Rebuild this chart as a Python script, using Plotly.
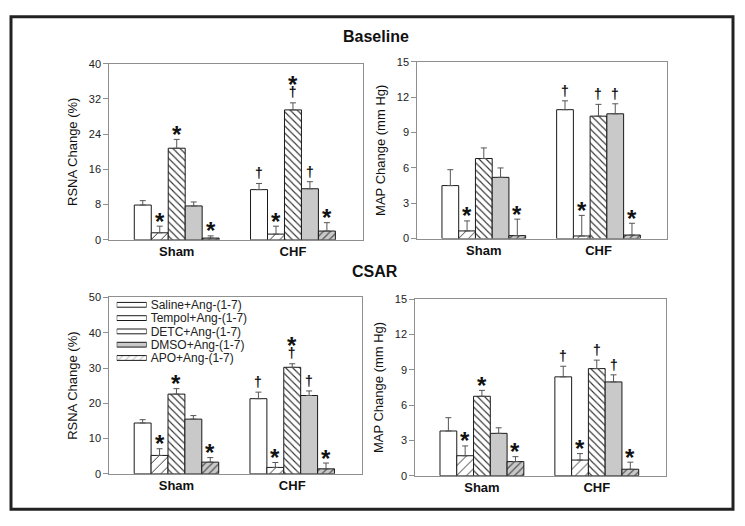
import plotly.graph_objects as go

W, H = 745, 526

groups = ["Sham", "CHF"]
treatments = ["Saline+Ang-(1-7)", "Tempol+Ang-(1-7)", "DETC+Ang-(1-7)",
              "DMSO+Ang-(1-7)", "APO+Ang-(1-7)"]

# Baseline RSNA (%)
base_rsna_sham = [7.9, 1.6, 20.8, 7.7, 0.4]
base_rsna_sham_err = [1.0, 1.5, 2.0, 0.9, 0.5]
base_rsna_chf = [11.4, 1.3, 29.5, 11.6, 2.0]
base_rsna_chf_err = [1.4, 1.8, 1.6, 1.6, 1.9]
base_rsna_sham_marks = ["", "*", "*", "", "*"]
base_rsna_chf_marks = ["†", "*", "*†", "†", "*"]

# Baseline MAP (mm Hg)
base_map_sham = [4.5, 0.65, 6.8, 5.2, 0.25]
base_map_sham_err = [1.35, 0.85, 0.9, 0.8, 1.4]
base_map_chf = [10.95, 0.22, 10.4, 10.6, 0.3]
base_map_chf_err = [0.75, 1.75, 1.0, 0.85, 1.0]
base_map_sham_marks = ["", "*", "", "", "*"]
base_map_chf_marks = ["†", "*", "†", "†", "*"]

# CSAR RSNA (%)
csar_rsna_sham = [14.4, 5.2, 22.6, 15.5, 3.3]
csar_rsna_sham_err = [0.95, 1.9, 1.55, 1.0, 1.3]
csar_rsna_chf = [21.3, 1.8, 30.2, 22.2, 1.4]
csar_rsna_chf_err = [1.85, 1.4, 1.0, 1.3, 1.65]
csar_rsna_sham_marks = ["", "*", "*", "", "*"]
csar_rsna_chf_marks = ["†", "*", "*†", "†", "*"]

# CSAR MAP (mm Hg)
csar_map_sham = [3.8, 1.7, 6.75, 3.6, 1.2]
csar_map_sham_err = [1.13, 0.83, 0.5, 0.47, 0.42]
csar_map_chf = [8.4, 1.33, 9.1, 7.97, 0.55]
csar_map_chf_err = [0.9, 0.55, 0.72, 0.6, 0.6]
csar_map_sham_marks = ["", "*", "*", "", "*"]
csar_map_chf_marks = ["†", "*", "†", "†", "*"]

styles = [
    dict(color="white", pattern=dict(shape="")),
    dict(color="white", pattern=dict(shape="/", size=7, solidity=0.14,
                                     fgcolor="#333333", bgcolor="white", fillmode="replace")),
    dict(color="white", pattern=dict(shape="\\", size=5, solidity=0.22,
                                     fgcolor="#333333", bgcolor="white", fillmode="replace")),
    dict(color="#c9c9c9", pattern=dict(shape="")),
    dict(color="#c9c9c9", pattern=dict(shape="/", size=5, solidity=0.25,
                                       fgcolor="#555555", bgcolor="#c9c9c9", fillmode="replace")),
]

FONT = "Liberation Sans, Arial, sans-serif"
AXC = "#8f8f8f"
BARGAP = 0.27

panels = [
    dict(sham=base_rsna_sham, sham_err=base_rsna_sham_err, chf=base_rsna_chf, chf_err=base_rsna_chf_err,
         sm=base_rsna_sham_marks, cm=base_rsna_chf_marks, ymax=40, dtick=8, title="RSNA Change (%)",
         xd=[109.3, 362.7], yd=[59.0, 239.3]),
    dict(sham=base_map_sham, sham_err=base_map_sham_err, chf=base_map_chf, chf_err=base_map_chf_err,
         sm=base_map_sham_marks, cm=base_map_chf_marks, ymax=15, dtick=3, title="MAP Change (mm Hg)",
         xd=[417.3, 667.3], yd=[57.3, 238.0]),
    dict(sham=csar_rsna_sham, sham_err=csar_rsna_sham_err, chf=csar_rsna_chf, chf_err=csar_rsna_chf_err,
         sm=csar_rsna_sham_marks, cm=csar_rsna_chf_marks, ymax=50, dtick=10, title="RSNA Change (%)",
         xd=[109.3, 361.7], yd=[298.3, 478.7]),
    dict(sham=csar_map_sham, sham_err=csar_map_sham_err, chf=csar_map_chf, chf_err=csar_map_chf_err,
         sm=csar_map_sham_marks, cm=csar_map_chf_marks, ymax=15, dtick=3, title="MAP Change (mm Hg)",
         xd=[415.3, 665.7], yd=[300.0, 480.7]),
]

fig = go.Figure()
annotations = []
layout = {}
bw = (1 - BARGAP) / len(treatments)

for p_i, p in enumerate(panels):
    n = p_i + 1
    xa = "x" if n == 1 else f"x{n}"
    ya = "y" if n == 1 else f"y{n}"
    for t_i, t in enumerate(treatments):
        st = styles[t_i]
        fig.add_trace(go.Bar(
            x=groups, y=[p["sham"][t_i], p["chf"][t_i]], name=t, showlegend=False,
            xaxis=xa, yaxis=ya,
            marker=dict(color=st["color"], pattern=st["pattern"], line=dict(color="#1a1a1a", width=1)),
            error_y=dict(type="data", symmetric=False,
                         array=[p["sham_err"][t_i], p["chf_err"][t_i]], arrayminus=[0, 0],
                         color="#555555", thickness=1, width=3),
        ))
        for g_i, (vals, errs, marks) in enumerate([(p["sham"], p["sham_err"], p["sm"]),
                                                   (p["chf"], p["chf_err"], p["cm"])]):
            m = marks[t_i]
            if not m:
                continue
            xpos = g_i + (t_i - 2) * bw
            ytop = vals[t_i] + errs[t_i]
            if m == "*":
                annotations.append(dict(x=xpos, y=ytop, xref=xa, yref=ya, text="<b>*</b>", showarrow=False,
                                        font=dict(family=FONT, size=24, color="#111"),
                                        yanchor="middle", yshift=5))
            elif m == "†":
                annotations.append(dict(x=xpos, y=ytop, xref=xa, yref=ya, text="<b>†</b>", showarrow=False,
                                        font=dict(family=FONT, size=14, color="#111"),
                                        yanchor="middle", yshift=10))
            else:
                annotations.append(dict(x=xpos, y=ytop, xref=xa, yref=ya,
                                        text="<span style='font-size:24px'><b>*</b></span><br>"
                                             "<span style='font-size:14px'><b>†</b></span>",
                                        showarrow=False,
                                        font=dict(family=FONT, size=3, color="#111"),
                                        yanchor="bottom", yshift=1))
    xkey = "xaxis" if n == 1 else f"xaxis{n}"
    ykey = "yaxis" if n == 1 else f"yaxis{n}"
    layout[xkey] = dict(domain=[p["xd"][0] / W, p["xd"][1] / W], anchor=ya, type="category",
                        range=[-0.58, 1.6], tickvals=groups, ticktext=[f"<b>{g}</b>" for g in groups],
                        tickfont=dict(family=FONT, size=13, color="#111"), ticks="",
                        showline=True, mirror=True, linecolor=AXC, linewidth=1, showgrid=False)
    layout[ykey] = dict(domain=[1 - p["yd"][1] / H, 1 - p["yd"][0] / H], anchor=xa,
                        range=[0, p["ymax"]], dtick=p["dtick"], tick0=0,
                        ticks="outside", ticklen=5, tickcolor=AXC,
                        tickfont=dict(family=FONT, size=11, color="#222"),
                        showline=True, mirror=True, linecolor=AXC, linewidth=1,
                        showgrid=False, zeroline=False,
                        title=dict(text=p["title"], font=dict(family=FONT, size=13, color="#111"), standoff=8))

# custom legend swatches (inside CSAR RSNA panel)
fig.add_trace(go.Bar(
    y=treatments, x=[1] * len(treatments), orientation="h", showlegend=False,
    xaxis="x5", yaxis="y5", hoverinfo="skip", width=0.36,
    marker=dict(color=[s["color"] for s in styles],
                pattern=dict(shape=[s["pattern"]["shape"] for s in styles],
                             size=[s["pattern"].get("size", 6) for s in styles],
                             solidity=[s["pattern"].get("solidity", 0.2) for s in styles],
                             fgcolor=[s["pattern"].get("fgcolor", "#333") for s in styles],
                             bgcolor=[s["pattern"].get("bgcolor", s["color"]) for s in styles],
                             fillmode="replace"),
                line=dict(color="#1a1a1a", width=1)),
))
layout["xaxis5"] = dict(domain=[116.7 / W, 146.7 / W], anchor="y5", range=[0, 1], visible=False)
layout["yaxis5"] = dict(domain=[1 - 367 / H, 1 - 299 / H], anchor="x5", type="category",
                        categoryorder="array", categoryarray=treatments, autorange="reversed",
                        tickmode="array", tickvals=treatments, ticktext=treatments,
                        side="right", ticks="", showline=False, showgrid=False, zeroline=False,
                        ticklabelstandoff=3,
                        tickfont=dict(family=FONT, size=12, color="#222"))

annotations.append(dict(x=376 / W, y=1 - 31 / H, xref="paper", yref="paper", text="<b>Baseline</b>",
                        showarrow=False, font=dict(family=FONT, size=16, color="#111"),
                        xanchor="center", yanchor="middle"))
annotations.append(dict(x=375 / W, y=1 - 272 / H, xref="paper", yref="paper", text="<b>CSAR</b>",
                        showarrow=False, font=dict(family=FONT, size=16, color="#111"),
                        xanchor="center", yanchor="middle"))

fig.update_layout(
    width=W, height=H, margin=dict(l=0, r=0, t=0, b=0),
    paper_bgcolor="white", plot_bgcolor="white",
    barmode="group", bargap=BARGAP, bargroupgap=0,
    annotations=annotations,
    shapes=[dict(type="rect", xref="paper", yref="paper",
                 x0=11 / W, x1=733 / W, y0=1 - 515 / H, y1=1 - 11 / H,
                 line=dict(color="#222", width=3), fillcolor="rgba(0,0,0,0)")],
    font=dict(family=FONT),
    **layout,
)

fig.write_html(
    "out.html",
    config={"displayModeBar": False},
    post_script=("document.documentElement.style.margin='0';document.body.style.margin='0';"
                 "document.body.style.padding='0';document.body.style.overflow='hidden';"
                 "var d=document.getElementById('{plot_id}');"
                 "d.style.position='fixed';d.style.left='0px';d.style.top='0px';"),
)
